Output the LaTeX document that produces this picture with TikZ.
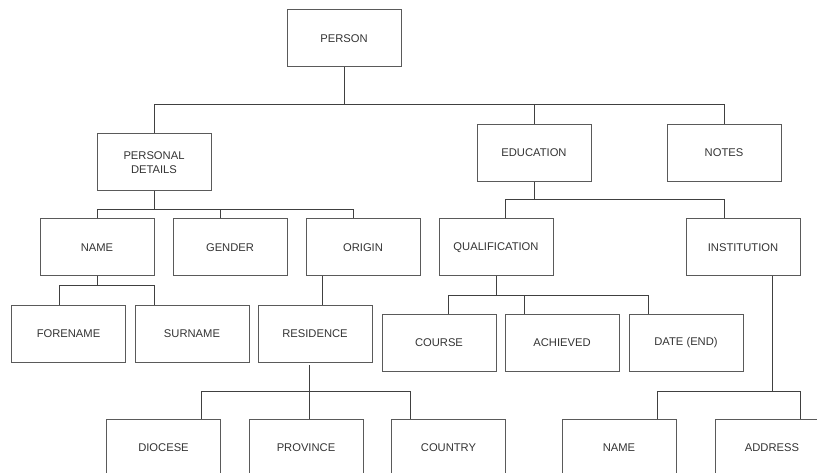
\documentclass[tikz,border=0pt]{standalone}
\usepackage{fontspec}
\setmainfont{Liberation Sans}
\definecolor{boxc}{HTML}{5A5A5A}
\definecolor{linec}{HTML}{404040}
\definecolor{textc}{HTML}{333333}
\begin{document}
\begin{tikzpicture}[x=1pt,y=-1pt,
  box/.style={draw=boxc, line width=1pt, minimum width=114pt, minimum height=57pt, inner sep=0pt,
    text=textc, font=\fontsize{11.2}{13.3}\selectfont, align=center},
  link/.style={draw=linec, line width=1pt}]
\useasboundingbox (0,0) rectangle (817,473);
\clip (0,0) rectangle (817,473);
% nodes
\node[box] (person) at (344,38.5) {PERSON};
\node[box] (pd) at (154,162.5) {PERSONAL\\DETAILS};
\node[box] (edu) at (534,153) {EDUCATION};
\node[box] (notes) at (724,153) {NOTES};
\node[box] (name) at (97,247.5) {NAME};
\node[box] (gender) at (230,247.5) {GENDER};
\node[box] (origin) at (363,247.5) {ORIGIN};
\node[box] (qual) at (496,247.5) {QUALIFICATION};
\node[box] (inst) at (743,247.5) {INSTITUTION};
\node[box] (forename) at (68.5,333.5) {FORENAME};
\node[box] (surname) at (192,333.5) {SURNAME};
\node[box] (residence) at (315,333.5) {RESIDENCE};
\node[box] (course) at (439,343) {COURSE};
\node[box] (achieved) at (562,343) {ACHIEVED};
\node[box] (dateend) at (686,343) {DATE (END)};
\node[box] (diocese) at (163.5,447.5) {DIOCESE};
\node[box] (province) at (306,447.5) {PROVINCE};
\node[box] (country) at (448.5,447.5) {COUNTRY};
\node[box] (iname) at (619,447.5) {NAME};
\node[box] (address) at (772,447.5) {ADDRESS};
% bar levels
\coordinate (b1) at (0,105);
\coordinate (b2) at (0,210);
\coordinate (b3) at (0,200);
\coordinate (b4) at (0,286);
\coordinate (b5) at (0,296);
\coordinate (b6) at (0,391);
\coordinate (r0) at (0,365);
% person
\draw[link] (person.south) -- (person.south |- b1);
\draw[link] (pd.north) |- (notes.north |- b1) -- (notes.north);
\draw[link] (edu.north) -- (edu.north |- b1);
% personal details
\draw[link] (pd.south) -- (pd.south |- b2);
\draw[link] (name.north) |- ([xshift=-10pt]origin.north |- b2) -- ([xshift=-10pt]origin.north);
\draw[link] ([xshift=-10pt]gender.north) -- ([xshift=-10pt]gender.north |- b2);
% education
\draw[link] (edu.south) -- (edu.south |- b3);
\draw[link] ([xshift=9pt]qual.north) |- ([xshift=-19pt]inst.north |- b3) -- ([xshift=-19pt]inst.north);
% name
\draw[link] (name.south) -- (name.south |- b4);
\draw[link] ([xshift=-9.5pt]forename.north) |- ([xshift=-38pt]surname.north |- b4) -- ([xshift=-38pt]surname.north);
% origin
\draw[link] ([xshift=-41pt]origin.south) -- ([xshift=-41pt]origin.south |- residence.north);
% residence
\draw[link] ([xshift=3pt]province.north |- r0) -- ([xshift=3pt]province.north);
\draw[link] ([xshift=37.5pt]diocese.north) |- ([xshift=-38.5pt]country.north |- b6) -- ([xshift=-38.5pt]country.north);
% qualification
\draw[link] (qual.south) -- (qual.south |- b5);
\draw[link] ([xshift=9pt]course.north) |- ([xshift=-38pt]dateend.north |- b5) -- ([xshift=-38pt]dateend.north);
\draw[link] ([xshift=-38pt]achieved.north) -- ([xshift=-38pt]achieved.north |- b5);
% institution
\draw[link] ([xshift=29pt]inst.south) -- ([xshift=29pt]inst.south |- b6);
\draw[link] ([xshift=38pt]iname.north) |- ([xshift=28pt]address.north |- b6) -- ([xshift=28pt]address.north);
\end{tikzpicture}
\end{document}
